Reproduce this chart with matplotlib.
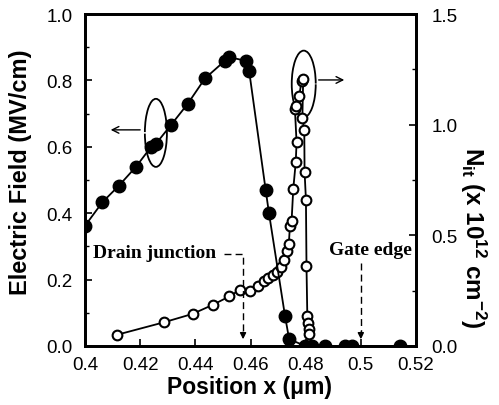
import matplotlib
matplotlib.use("Agg")
import matplotlib.pyplot as plt
from matplotlib.patches import Arc
from matplotlib.ticker import MultipleLocator

plt.rcParams['font.family'] = ['Liberation Sans', 'DejaVu Sans']
plt.rcParams['mathtext.default'] = 'regular'

# Electric field (filled circles, left axis)
e_x = [0.400, 0.4063, 0.4123, 0.4185, 0.4238, 0.4256, 0.4312, 0.4372, 0.4435,
       0.4507, 0.4523, 0.4583, 0.4595, 0.4655, 0.4667, 0.4725, 0.4740,
       0.4798, 0.4822, 0.4870, 0.4943, 0.4967, 0.5142]
e_y = [0.362, 0.433, 0.483, 0.540, 0.598, 0.608, 0.666, 0.729, 0.806,
       0.859, 0.870, 0.859, 0.829, 0.470, 0.400, 0.091, 0.021,
       0.0, 0.0, 0.0, 0.0, 0.0, 0.0]

# Interface trap density Nit (open circles, right axis)
n_x = [0.4117, 0.4286, 0.4390, 0.4465, 0.4523, 0.4562, 0.4598, 0.4628, 0.4649,
       0.4664, 0.4680, 0.4697, 0.4712, 0.4723, 0.4732, 0.4739, 0.4743, 0.4749,
       0.4755, 0.4764, 0.4767, 0.4761, 0.4765, 0.4777, 0.4785, 0.4791,
       0.4788, 0.4795, 0.4796, 0.4801, 0.4803, 0.4806, 0.4809, 0.4811, 0.4813, 0.4822]
n_y = [0.051, 0.107, 0.145, 0.187, 0.224, 0.254, 0.250, 0.272, 0.295,
       0.306, 0.321, 0.333, 0.356, 0.388, 0.427, 0.463, 0.544, 0.566,
       0.709, 0.830, 0.920, 1.071, 1.086, 1.131, 1.199, 1.206,
       1.030, 0.975, 0.788, 0.660, 0.360, 0.135, 0.105, 0.075, 0.055, 0.0]

x_ticks = [0.40, 0.42, 0.44, 0.46, 0.48, 0.50, 0.52]
x_labels = ['0.4', '0.42', '0.44', '0.46', '0.48', '0.5', '0.52']
yl_ticks = [0.0, 0.2, 0.4, 0.6, 0.8, 1.0]
yl_labels = ['0.0', '0.2', '0.4', '0.6', '0.8', '1.0']
yr_ticks = [0.0, 0.5, 1.0, 1.5]
yr_labels = ['0.0', '0.5', '1.0', '1.5']

W, H = 499, 406
fig = plt.figure(figsize=(W / 100, H / 100), dpi=100)
ax = fig.add_axes([85 / W, 59 / H, 331 / W, 332 / H])
ax2 = ax.twinx()

ax.set_xlim(0.40, 0.52)
ax.set_ylim(0.0, 1.0)
ax2.set_ylim(0.0, 1.5)

ax2.plot(n_x, n_y, '-', color='black', lw=1.3, marker='o', ms=7,
         mfc='white', mec='black', mew=1.5, zorder=2)
ax.plot(e_x, e_y, '-', color='black', lw=1.3, marker='o', ms=9,
        mfc='black', mec='black', zorder=3)
ax.set_zorder(ax2.get_zorder() + 1)
ax.patch.set_visible(False)

ax.set_xticks(x_ticks)
ax.set_xticklabels(x_labels)
ax.set_yticks(yl_ticks)
ax.set_yticklabels(yl_labels)
ax.yaxis.set_minor_locator(MultipleLocator(0.1))
ax2.set_yticks(yr_ticks)
ax2.set_yticklabels(yr_labels)
ax2.yaxis.set_minor_locator(MultipleLocator(0.25))

for a in (ax, ax2):
    for s in a.spines.values():
        s.set_linewidth(2.0)
    a.tick_params(which='major', direction='in', length=5, width=1.2, labelsize=13.5)
    a.tick_params(which='minor', direction='in', length=3, width=1.0)
ax.tick_params(axis='x', pad=7)
ax.tick_params(axis='y', pad=9)
ax2.tick_params(axis='y', pad=11)

fig.text(250 / W, 1 - 388 / H, 'Position x (μm)', fontsize=16.5, fontweight='bold',
         ha='center', va='center')
fig.text(21 / W, 1 - 172 / H, 'Electric Field (MV/cm)', fontsize=17, fontweight='bold',
         ha='center', va='center', rotation=90)
fig.text(473 / W, 1 - 238 / H, r'N$_{it}$ (x 10$^{12}$ cm$^{-2}$)', fontsize=17.5,
         fontweight='bold', ha='center', va='center', rotation=-90)

serif = ['Liberation Serif', 'DejaVu Serif']
ax.text(0.4030, 0.283, 'Drain junction', family=serif, fontweight='bold', fontsize=14,
        va='center', ha='left')
ax.plot([0.4505, 0.4573, 0.4573], [0.277, 0.277, 0.03], ls=(0, (5, 3)), color='black', lw=1.0)
ax.annotate('', xy=(0.4573, 0.012), xytext=(0.4573, 0.05),
            arrowprops=dict(arrowstyle='-|>', color='black', lw=1.0, mutation_scale=9))
ax.text(0.4885, 0.29, 'Gate edge', family=serif, fontweight='bold', fontsize=14,
        va='center', ha='left', clip_on=False)
ax.plot([0.50, 0.50], [0.25, 0.03], ls=(0, (5, 3)), color='black', lw=1.0)
ax.annotate('', xy=(0.50, 0.012), xytext=(0.50, 0.05),
            arrowprops=dict(arrowstyle='-|>', color='black', lw=1.0, mutation_scale=9))

# loops and arrows
ax.add_patch(Arc((0.4257, 0.642), 0.0080, 0.205, theta1=-150, theta2=150,
                 color='black', lw=1.3))
ax.annotate('', xy=(0.4083, 0.651), xytext=(0.4210, 0.651),
            arrowprops=dict(arrowstyle='->', color='black', lw=1.0, mutation_scale=12))
ax2.add_patch(Arc((0.4793, 1.184), 0.0087, 0.301, theta1=20, theta2=340,
                  color='black', lw=1.3))
ax2.annotate('', xy=(0.495, 1.202), xytext=(0.4837, 1.202),
             arrowprops=dict(arrowstyle='->', color='black', lw=1.0, mutation_scale=12))

fig.savefig('out.png', dpi=100)
